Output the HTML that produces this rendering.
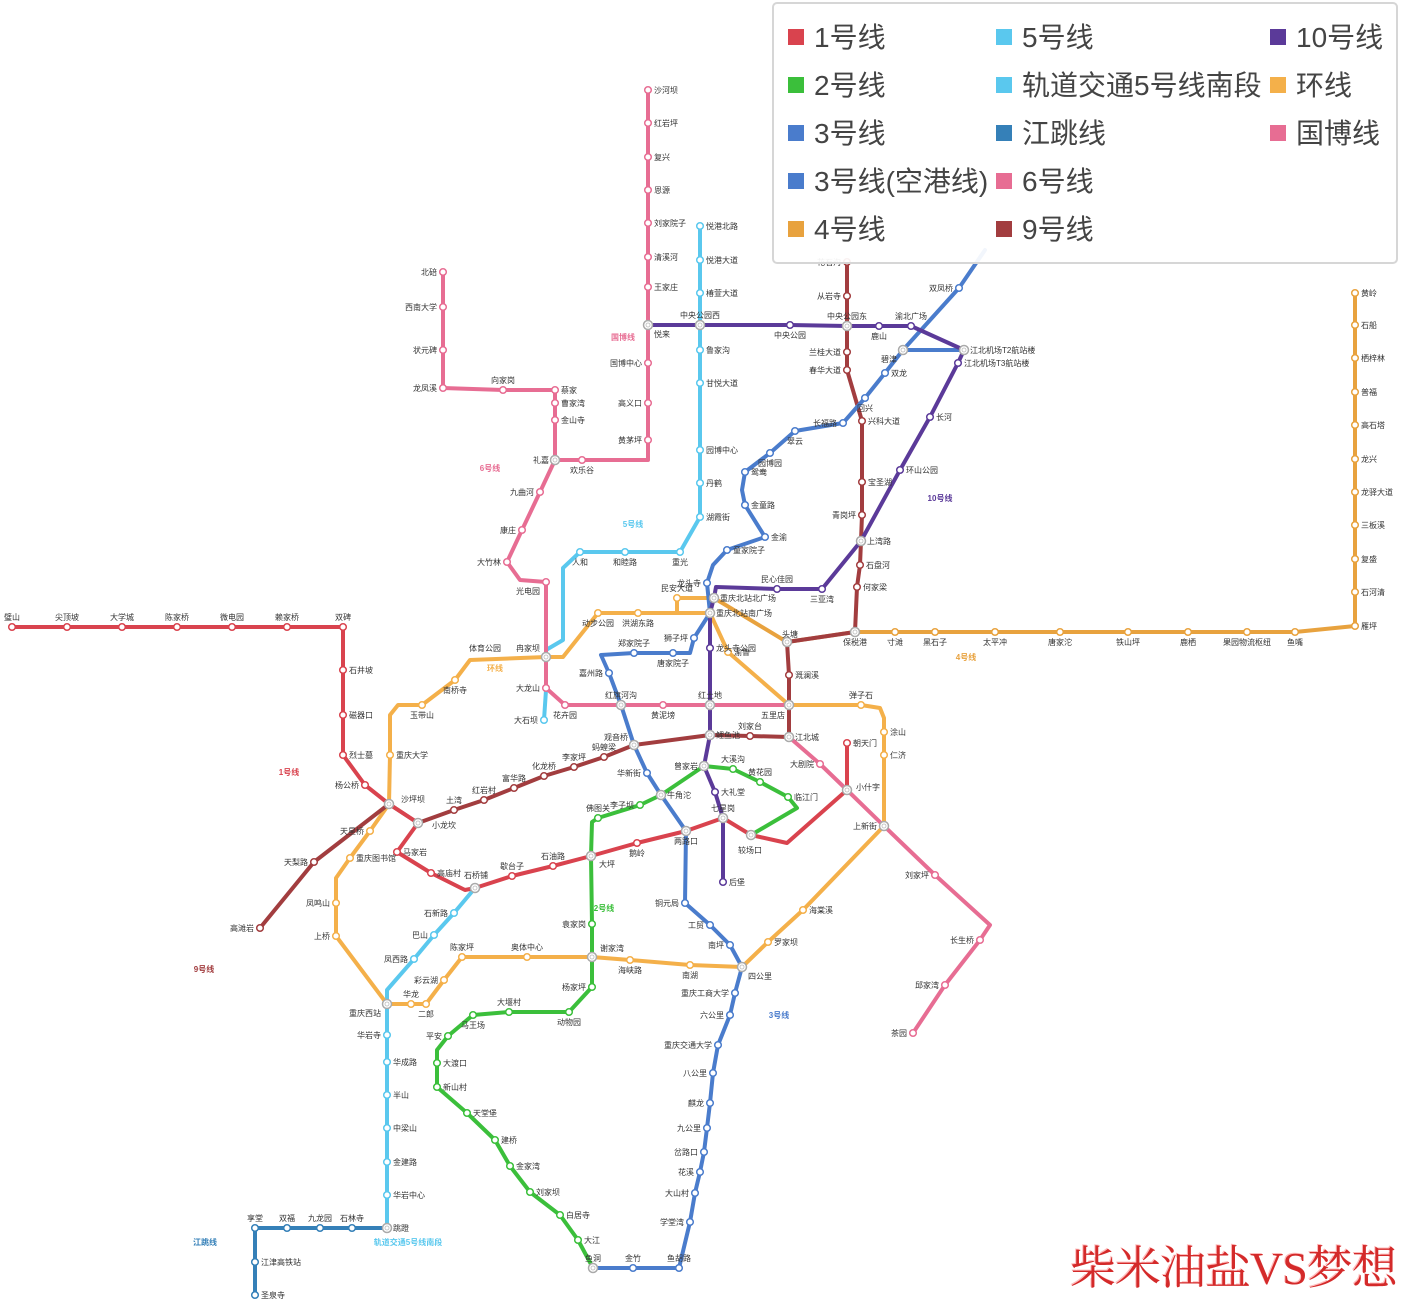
<!DOCTYPE html>
<html><head><meta charset="utf-8">
<style>
html,body{margin:0;padding:0;background:#fff;}
body{width:1408px;height:1300px;overflow:hidden;position:relative;font-family:"Liberation Sans","Noto Sans CJK SC",sans-serif;}
svg{position:absolute;left:0;top:0;}
.legend{position:absolute;left:772px;top:2px;width:622px;height:258px;border:2px solid #d6d6d6;border-radius:5px;background:rgba(255,255,255,0.93);}
.li{position:absolute;font-size:28px;color:#444;line-height:32px;white-space:nowrap;}
.li i{display:inline-block;width:16px;height:16px;margin-right:10px;vertical-align:2px;}
.wm{position:absolute;left:1070px;top:1232px;font-family:"Liberation Serif","Noto Serif CJK SC",serif;font-size:46px;color:#d42a2a;white-space:nowrap;text-shadow:2px 2px 0 #fff,-1px -1px 0 #fbb;letter-spacing:-1px;}
</style></head><body>
<svg id="m" width="1408" height="1300" xmlns="http://www.w3.org/2000/svg" font-family="Liberation Sans, Noto Sans CJK SC, sans-serif"></svg>
<div class="legend">
<div class="li" style="left:14px;top:18px"><i style="background:#d9434e"></i>1号线</div>
<div class="li" style="left:14px;top:66px"><i style="background:#3bbf3b"></i>2号线</div>
<div class="li" style="left:14px;top:114px"><i style="background:#4a7ccc"></i>3号线</div>
<div class="li" style="left:14px;top:162px"><i style="background:#4a7ccc"></i>3号线(空港线)</div>
<div class="li" style="left:14px;top:210px"><i style="background:#e8a23e"></i>4号线</div>
<div class="li" style="left:222px;top:18px"><i style="background:#5ac8ee"></i>5号线</div>
<div class="li" style="left:222px;top:66px"><i style="background:#5ac8ee"></i>轨道交通5号线南段</div>
<div class="li" style="left:222px;top:114px"><i style="background:#3580b8"></i>江跳线</div>
<div class="li" style="left:222px;top:162px"><i style="background:#e76d93"></i>6号线</div>
<div class="li" style="left:222px;top:210px"><i style="background:#a23d3f"></i>9号线</div>
<div class="li" style="left:496px;top:18px"><i style="background:#5b3a99"></i>10号线</div>
<div class="li" style="left:496px;top:66px"><i style="background:#f4b04a"></i>环线</div>
<div class="li" style="left:496px;top:114px"><i style="background:#e76d93"></i>国博线</div>
</div>
<div class="wm">柴米油盐VS梦想</div>
<script>
var L=[
["#e76d93",[[555,460],[582,460,'欢乐谷','b'],[648,460],[648,440,'黄茅坪','l'],[648,403,'高义口','l'],[648,363,'国博中心','l'],[648,325,'悦来','rb'],[648,287,'王家庄'],[648,257,'清溪河'],[648,223,'刘家院子'],[648,190,'恩源'],[648,157,'复兴'],[648,123,'红岩坪'],[648,90,'沙河坝']]],
["#4a7ccc",[[903,350],[959,288,'双凤桥','l'],[985,250]]],
["#5ac8ee",[[700,226,'悦港北路'],[700,260,'悦港大道'],[700,293,'椿萱大道'],[700,325],[700,350,'鲁家沟'],[700,383,'甘悦大道'],[700,450,'园博中心'],[700,483,'丹鹤'],[700,517,'湖霞街'],[680,552,'重光','b'],[625,552,'和睦路','b'],[580,552,'人和','b'],[563,568],[563,640],[546,650],[546,690],[544,720,'大石坝','l']]],
["#5ac8ee",[[475,888],[454,913,'石新路','l'],[434,935,'巴山','l'],[414,959,'凤西路','l'],[387,990],[387,1004],[387,1035,'华岩寺','l'],[387,1062,'华成路'],[387,1095,'半山'],[387,1128,'中梁山'],[387,1162,'金建路'],[387,1195,'华岩中心'],[387,1228,'跳蹬']]],
["#3580b8",[[387,1228],[352,1228,'石林寺','t'],[320,1228,'九龙园','t'],[287,1228,'双福','t'],[255,1228,'享堂','t'],[255,1262,'江津高铁站'],[255,1295,'圣泉寺']]],
["#e8a23e",[[714,598],[787,642],[855,632],[895,632,'寸滩','b'],[935,632,'黑石子','b'],[995,632,'太平冲','b'],[1060,632,'唐家沱','b'],[1128,632,'铁山坪','b'],[1188,632,'鹿栖','b'],[1247,632,'果园物流枢纽','b'],[1295,632,'鱼嘴','b'],[1355,626,'雁坪'],[1355,592,'石河清'],[1355,559,'复盛'],[1355,525,'三板溪'],[1355,492,'龙驿大道'],[1355,459,'龙兴'],[1355,425,'高石塔'],[1355,392,'普福'],[1355,358,'栖梓林'],[1355,325,'石船'],[1355,293,'黄岭']]],
["#f4b04a",[[387,1004,'重庆西站','lb'],[336,936,'上桥','l'],[336,903,'凤鸣山','l'],[336,878],[350,858,'重庆图书馆'],[370,831,'天星桥','l'],[389,804],[390,755,'重庆大学'],[390,715],[398,705],[422,705,'玉带山','b'],[455,680,'南桥寺','b'],[470,660],[546,657],[563,657],[598,613,'动步公园','b'],[638,613,'洪湖东路','b'],[677,613],[710,613],[728,652,'渝鲁'],[789,705],[861,705,'弹子石','t'],[880,708],[884,718],[884,732,'涂山'],[884,755,'仁济'],[884,826],[803,910,'海棠溪'],[768,942,'罗家坝'],[742,967],[690,965,'南湖','b'],[630,960,'海峡路','b'],[592,957],[527,957,'奥体中心','t'],[462,957,'陈家坪','t'],[444,980,'彩云湖','l'],[426,1004,'二郎','b'],[411,1004,'华龙','t'],[387,1004]]],
["#f4b04a",[[677,613],[677,598,'民安大道','t'],[714,598]]],
["#e76d93",[[443,272,'北碚','l'],[443,307,'西南大学','l'],[443,350,'状元碑','l'],[443,388,'龙凤溪','l'],[503,390,'向家岗','t'],[555,390,'蔡家'],[555,403,'曹家湾'],[555,420,'金山寺'],[555,460,'礼嘉','l'],[540,492,'九曲河','l'],[522,530,'康庄','l'],[507,562,'大竹林','l'],[520,580],[546,582,'光电园','lb'],[546,657],[546,688,'大龙山','l'],[565,705,'花卉园','b'],[621,705],[663,705,'黄泥塝','b'],[710,705],[789,705],[789,737,'江北城'],[820,764,'大剧院','l'],[847,790],[884,826],[935,875,'刘家坪','l'],[990,925],[980,940,'长生桥','l'],[945,985,'邱家湾','l'],[913,1033,'茶园','l']]],
["#a23d3f",[[260,928,'高滩岩','l'],[314,862,'天梨路','l'],[389,804],[418,823],[454,810,'土湾','t'],[484,800,'红岩村','t'],[514,788,'富华路','t'],[544,776,'化龙桥','t'],[574,767,'李家坪','t'],[604,757,'蚂蝗梁','t'],[634,745],[710,735],[750,736,'刘家台','t'],[789,737],[789,705],[789,675,'溉澜溪'],[787,642],[855,632,'保税港','b'],[857,587,'何家梁'],[860,565,'石盘河'],[861,541],[862,515,'青岗坪','l'],[862,482,'宝圣湖'],[862,421,'兴科大道'],[847,370,'春华大道','l'],[847,352,'兰桂大道','l'],[847,326],[847,296,'从岩寺','l'],[847,262,'花石沟','l']]],
["#d9434e",[[12,627,'璧山','t'],[67,627,'尖顶坡','t'],[122,627,'大学城','t'],[177,627,'陈家桥','t'],[232,627,'微电园','t'],[287,627,'赖家桥','t'],[343,627,'双碑','t'],[343,670,'石井坡'],[343,715,'磁器口'],[343,755,'烈士墓'],[365,785,'杨公桥','l'],[389,804],[418,823],[397,852,'马家岩'],[431,873,'高庙村'],[465,890],[475,888],[512,876,'歇台子','t'],[553,866,'石油路','t'],[591,856],[637,843,'鹅岭','b'],[686,831],[723,818],[751,835],[787,843],[847,790],[847,743,'朝天门']]],
["#3bbf3b",[[751,835],[797,808],[788,797,'临江门'],[760,782,'黄花园','t'],[733,769,'大溪沟','t'],[704,766],[661,795],[640,805,'李子坝','l'],[598,818,'佛图关','t'],[592,822],[591,856],[592,924,'袁家岗','l'],[592,957],[592,987,'杨家坪','l'],[569,1012,'动物园','b'],[509,1012,'大堰村','t'],[473,1015,'马王场','b'],[448,1036,'平安','l'],[437,1050],[437,1063,'大渡口'],[437,1087,'新山村'],[467,1113,'天堂堡'],[495,1140,'建桥'],[510,1166,'金家湾'],[530,1192,'刘家坝'],[560,1215,'白居寺'],[578,1240,'大江'],[593,1268]]],
["#4a7ccc",[[593,1268,'鱼洞','t'],[633,1268,'金竹','t'],[679,1268,'鱼胡路','t'],[690,1222,'学堂湾','l'],[695,1193,'大山村','l'],[700,1172,'花溪','l'],[704,1152,'岔路口','l'],[707,1128,'九公里','l'],[710,1103,'麒龙','l'],[713,1073,'八公里','l'],[718,1045,'重庆交通大学','l'],[730,1015,'六公里','l'],[735,993,'重庆工商大学','l'],[742,967,'四公里','rb'],[730,945,'南坪','l'],[710,925,'工贸','l'],[685,903,'铜元局','l'],[686,831,'两路口','b'],[661,795,'牛角沱'],[647,773,'华新街','l'],[634,745,'观音桥','lt'],[621,705,'红旗河沟','t'],[609,673,'嘉州路','l'],[601,655],[634,653,'郑家院子','t'],[673,653,'唐家院子','b'],[690,653],[694,638,'狮子坪','l'],[710,613],[707,583,'龙头寺','l'],[713,565],[727,550,'童家院子'],[765,537,'金渝'],[745,505,'金童路'],[742,490],[745,472,'鸳鸯'],[770,453,'园博园','b'],[795,431,'翠云','b'],[843,423,'长福路','l'],[865,398,'回兴','b'],[885,373,'双龙'],[903,350,'碧津','lb'],[964,350,'江北机场T2航站楼']]],
["#5b3a99",[[648,325],[700,325,'中央公园西','t'],[790,325,'中央公园','b'],[847,326,'中央公园东','t'],[879,326,'鹿山','b'],[911,326,'渝北广场','t'],[964,350],[958,363,'江北机场T3航站楼'],[930,417,'长河'],[900,470,'环山公园'],[861,541,'上湾路'],[822,589,'三亚湾','b'],[777,589,'民心佳园','t'],[716,587],[714,598,'重庆北站北广场'],[710,613,'重庆北站南广场'],[710,648,'龙头寺公园'],[710,705,'红土地','t'],[710,735,'鲤鱼池'],[704,766,'曾家岩','l'],[715,792,'大礼堂'],[723,818,'七星岗','t'],[723,882,'后堡']]]
];
var ns="http://www.w3.org/2000/svg",s=document.getElementById('m');
function el(t,a){var e=document.createElementNS(ns,t);for(var k in a)e.setAttribute(k,a[k]);s.appendChild(e);return e;}
var cnt={};
L.forEach(function(l){l[1].forEach(function(p){var k=p[0]+','+p[1];cnt[k]=(cnt[k]||0)+1;});});
L.forEach(function(l){el('polyline',{points:l[1].map(function(p){return p[0]+','+p[1]}).join(' '),fill:'none',stroke:l[0],'stroke-width':4,'stroke-linejoin':'round','stroke-linecap':'round'});});
var drawn={};
L.forEach(function(l){l[1].forEach(function(p){var k=p[0]+','+p[1];
 if(drawn[k]||p.length<3)return;
 if(cnt[k]==1){drawn[k]=1;el('circle',{cx:p[0],cy:p[1],r:3.3,fill:'#fff',stroke:l[0],'stroke-width':1.5});}
});});
var tr=[[389,804],[418,823],[475,888],[591,856],[686,831],[661,795],[634,745],[710,735],[704,766],[723,818],[751,835],[847,790],[884,826],[789,705],[789,737],[787,642],[855,632],[861,541],[710,613],[714,598],[710,705],[621,705],[546,657],[555,460],[648,325],[700,325],[847,326],[903,350],[964,350],[387,1004],[592,957],[742,967],[593,1268],[387,1228]];
tr.forEach(function(p){el('circle',{cx:p[0],cy:p[1],r:4.5,fill:'#fff',stroke:'#aaa','stroke-width':1.5});el('circle',{cx:p[0],cy:p[1],r:2,fill:'none',stroke:'#bbb','stroke-width':0.8});});
L.forEach(function(l){l[1].forEach(function(p){if(p.length<3)return;var a=p[3]||'r',x=p[0]+6,y=p[1]+3,an='start';
 if(a=='l'){x=p[0]-6;an='end';}
 else if(a=='t'){x=p[0];y=p[1]-7;an='middle';}
 else if(a=='b'){x=p[0];y=p[1]+13;an='middle';}
 else if(a=='lb'){x=p[0]-6;y=p[1]+12;an='end';}
 else if(a=='lt'){x=p[0]-6;y=p[1]-5;an='end';}
 else if(a=='rb'){x=p[0]+6;y=p[1]+12;}
 var t=el('text',{x:x,y:y,'font-size':8,fill:'#333','text-anchor':an});t.textContent=p[2];});});
[["6号线",490,471,"#e76d93"],["国博线",623,340,"#e76d93"],["5号线",633,527,"#5ac8ee"],["环线",495,671,"#f4b04a"],["1号线",289,775,"#d9434e"],["9号线",204,972,"#a23d3f"],["2号线",604,911,"#3bbf3b"],["3号线",779,1018,"#4a7ccc"],["4号线",966,660,"#e8a23e"],["10号线",940,501,"#5b3a99"],["江跳线",205,1245,"#3580b8"],["轨道交通5号线南段",408,1245,"#5ac8ee"],["体育公园",485,651,"#333"],["冉家坝",528,651,"#333"],["头塘",790,637,"#333"],["五里店",773,718,"#333"],["小龙坎",444,828,"#333"],["沙坪坝",413,802,"#333"],["石桥铺",476,878,"#333"],["大坪",607,867,"#333"],["较场口",750,853,"#333"],["小什字",868,790,"#333"],["上新街",865,829,"#333"],["谢家湾",612,951,"#333"]].forEach(function(d){var t=el('text',{x:d[1],y:d[2],'font-size':8,'font-weight':d[3]=='#333'?'normal':'bold',fill:d[3],'text-anchor':'middle'});t.textContent=d[0];});
</script>
</body></html>
